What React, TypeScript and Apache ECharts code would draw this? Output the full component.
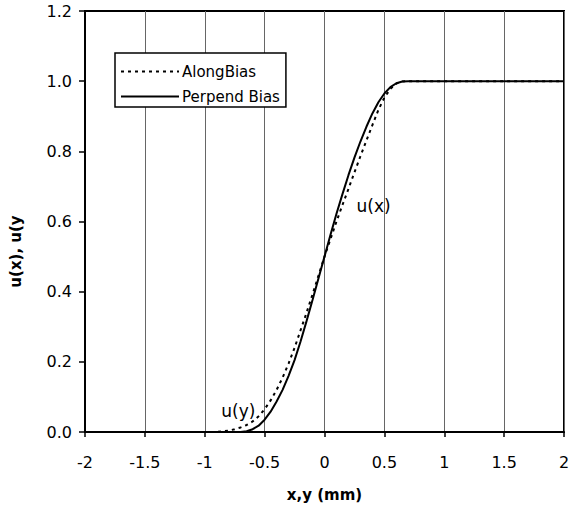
import React, { useEffect, useRef } from "react";
import * as echarts from "echarts";

const xValues = [-2, -1, -0.9, -0.85, -0.8, -0.75, -0.7, -0.65, -0.6, -0.55, -0.5, -0.45, -0.4, -0.35, -0.3, -0.25, -0.2, -0.15, -0.1, -0.05, 0, 0.05, 0.1, 0.15, 0.2, 0.25, 0.3, 0.35, 0.4, 0.45, 0.5, 0.55, 0.6, 0.65, 0.7, 1, 2];
const perpendBias = [0, 0, 0, 0, 0, 0, 0, 0.002, 0.008, 0.018, 0.035, 0.058, 0.087, 0.12, 0.16, 0.205, 0.258, 0.316, 0.376, 0.438, 0.5, 0.562, 0.622, 0.678, 0.732, 0.782, 0.828, 0.87, 0.908, 0.94, 0.965, 0.983, 0.994, 0.999, 1, 1, 1];
const alongBias = [0, 0, 0, 0.002, 0.004, 0.008, 0.013, 0.02, 0.03, 0.045, 0.065, 0.09, 0.12, 0.155, 0.195, 0.24, 0.29, 0.34, 0.392, 0.446, 0.5, 0.55, 0.6, 0.647, 0.693, 0.74, 0.786, 0.831, 0.875, 0.918, 0.953, 0.978, 0.993, 0.999, 1, 1, 1];
const seriesNames = ["AlongBias", "Perpend Bias"];
const annotations = [
  { text: "u(x)", x: 0.41, y: 0.644 },
  { text: "u(y)", x: -0.72, y: 0.06 },
];

const FONT = "DejaVu Sans";

export default function App() {
  const ref = useRef<HTMLDivElement>(null);
  useEffect(() => {
    if (!ref.current) return;
    const chart = echarts.init(ref.current, null, { renderer: "svg" });
    const pairs = (ys: number[]) => xValues.map((x, i) => [x, ys[i]]);
    chart.setOption({
      animation: false,
      backgroundColor: "#fff",
      grid: {
        left: 81,
        right: 12,
        top: 11,
        bottom: 79,
        show: true,
        borderColor: "#000",
        borderWidth: 2,
      },
      legend: {
        show: true,
        orient: "vertical",
        left: 115,
        top: 53,
        data: seriesNames,
        backgroundColor: "#fff",
        borderColor: "#000",
        borderWidth: 1.5,
        borderRadius: 0,
        padding: [11, 6, 3, 5],
        itemGap: 10,
        itemWidth: 58,
        itemHeight: 18,
        itemStyle: { opacity: 0 },
        textStyle: { fontFamily: FONT, fontSize: 15, color: "#000", padding: [0, 0, 0, -2] },
      },
      xAxis: {
        type: "value",
        min: -2,
        max: 2,
        interval: 0.5,
        name: "x,y (mm)",
        nameLocation: "middle",
        nameGap: 55,
        nameTextStyle: { fontFamily: FONT, fontSize: 15, fontWeight: "bold", color: "#000" },
        axisLine: { show: true, onZero: false, lineStyle: { color: "#000", width: 2 } },
        axisTick: { show: true, length: 5, lineStyle: { color: "#000", width: 1.5 } },
        axisLabel: { fontFamily: FONT, fontSize: 16, color: "#000", margin: 22 },
        splitLine: { show: true, lineStyle: { color: "#666", width: 1 } },
      },
      yAxis: {
        type: "value",
        min: 0,
        max: 1.2,
        interval: 0.2,
        name: "u(x), u(y",
        nameLocation: "middle",
        nameGap: 62,
        nameRotate: 90,
        nameTextStyle: { fontFamily: FONT, fontSize: 15, fontWeight: "bold", color: "#000", padding: [0, 0, 0, -60] },
        axisLine: { show: true, onZero: false, lineStyle: { color: "#000", width: 2 } },
        axisTick: { show: true, length: 6, lineStyle: { color: "#000", width: 1.5 } },
        axisLabel: { fontFamily: FONT, fontSize: 16, color: "#000", margin: 13, formatter: (v: number) => v.toFixed(1) },
        splitLine: { show: false },
      },
      series: [
        {
          name: seriesNames[0],
          type: "line",
          data: pairs(alongBias),
          symbol: "none",
          smooth: false,
          lineStyle: { color: "#000", width: 2, type: [3, 4] },
          itemStyle: { color: "#000" },
          z: 3,
          markPoint: {
            symbol: "circle",
            symbolSize: 1,
            itemStyle: { color: "rgba(0,0,0,0)" },
            label: { show: true, position: "inside", fontFamily: FONT, fontSize: 17, color: "#000" },
            data: annotations.map((a) => ({ coord: [a.x, a.y], value: a.text, label: { formatter: a.text } })),
          },
        },
        {
          name: seriesNames[1],
          type: "line",
          data: pairs(perpendBias),
          symbol: "none",
          smooth: false,
          lineStyle: { color: "#000", width: 2, type: "solid" },
          itemStyle: { color: "#000" },
          z: 4,
        },
      ],
    });
    return () => chart.dispose();
  }, []);
  return (
    <div
      ref={ref}
      style={{ position: "absolute", left: 0, top: 0, width: 576, height: 511 }}
    />
  );
}
